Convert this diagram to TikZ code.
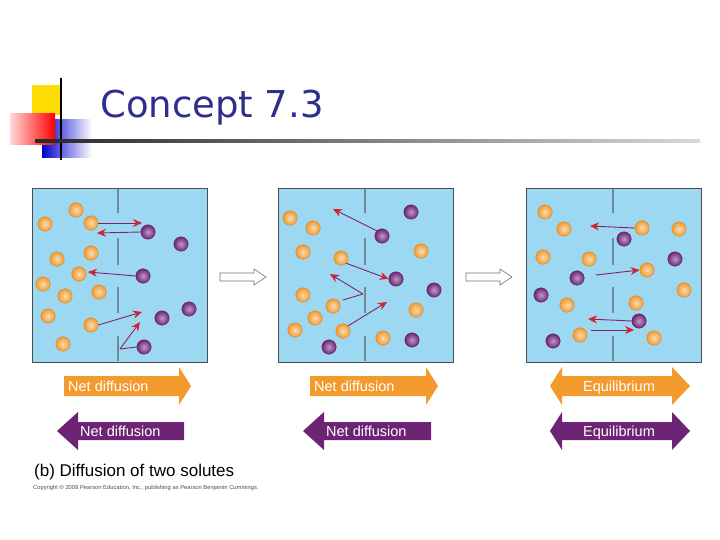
\documentclass[tikz,border=0pt]{standalone}
\usepackage{fontspec}
\setmainfont{Liberation Sans}
\newfontfamily\titlefont{DejaVu Sans}
\usetikzlibrary{arrows.meta}
\definecolor{water}{HTML}{9DD8F2}
\definecolor{orng}{HTML}{F29A2E}
\definecolor{purp}{HTML}{6E2475}
\definecolor{navy}{HTML}{2E2E8C}
\definecolor{memb}{HTML}{6F8A99}
\definecolor{arr}{HTML}{D6202E}
\tikzset{
 tank/.style={fill=water,draw=black!70,line width=0.8pt},
 mem/.style={draw=memb,line width=2.4pt},
 ob/.style={circle,inner sep=0pt,minimum size=14.5pt,shading=radial,inner color=orng!35!white,outer color=orng,draw=orng!85!black,line width=0.3pt},
 pb/.style={circle,inner sep=0pt,minimum size=14.5pt,shading=radial,inner color=purp!45!white,outer color=purp,draw=purp!80!black,line width=0.3pt},
 mv/.style={draw=purp!80!arr,line width=0.9pt,-{Stealth[length=9pt,width=8pt,color=arr,fill=arr]}},
 mvb/.style={draw=purp!80!arr,line width=0.9pt},
 lbl/.style={text=white,inner sep=0pt,font=\fontsize{14.5}{16}\selectfont},
 hollow/.style={draw=black!55,fill=white,line width=0.6pt}
}
\begin{document}
\begin{tikzpicture}[x=1pt,y=-1pt]
\useasboundingbox (0,0) rectangle (720,540);
% logo
\fill[yellow!80!orange] (32,85) rectangle (62,115);
\shade[left color=blue!80!black,right color=white] (42,120) rectangle (92,158);
\shade[left color=red!15,right color=red] (10,114) rectangle (55,145);
\draw[black,line width=1.5pt] (61,78) -- (61,160);
\shade[left color=black!85,right color=black!15] (35,140) rectangle (700,142.5);
\node[anchor=base west,text=navy,inner sep=0pt,font=\titlefont\fontsize{37}{40}\selectfont] (title) at (100,118) {Concept 7.3};
% panels
\foreach \x/\m in {32/118,278/365,526/613}{
 \draw[tank] (\x,188) rectangle (\x+175,362);
 \draw[mem] (\m,189)--(\m,213) (\m,238)--(\m,265) (\m,287)--(\m,313) (\m,336)--(\m,361);
}
% panel 1 balls
\foreach \p [count=\i] in {(76,210),(45,224),(91,223),(57,259),(91,253),(79,274),(43,284),(65,296),(99,292),(48,316),(91,325),(63,344)} \node[ob] (a\i) at \p {};
\foreach \p [count=\i] in {(148,232),(181,244),(143,276),(189,309),(162,318),(144,347)} \node[pb] (b\i) at \p {};
\coordinate (e1) at (142,223); \coordinate (e2) at (97,233); \coordinate (e3) at (88,272);
\coordinate (e4) at (142,312); \coordinate (k1) at (120,349); \coordinate (e5) at (140,322);
\draw[mv] (a3.east) -- (e1);
\draw[mv] (b1.west) -- (e2);
\draw[mv] (b3.west) -- (e3);
\draw[mv] (a11.east) -- (e4);
\draw[mvb] (b6.west) -- (k1); \draw[mv] (k1) -- (e5);
% panel 2 balls
\foreach \p [count=\i] in {(290,218),(313,228),(303,252),(341,258),(303,295),(333,306),(315,318),(295,330),(343,331),(421,251),(416,310),(383,338)} \node[ob] (c\i) at \p {};
\foreach \p [count=\i] in {(411,212),(382,236),(396,279),(434,290),(329,347),(412,340)} \node[pb] (d\i) at \p {};
\coordinate (f1) at (333,209); \coordinate (k2) at (363,294); \coordinate (f3) at (330,274); \coordinate (f4) at (387,302);
\coordinate (s3) at (343,300);
\draw[mv] (d2.north west) -- (f1);
\draw[mv] (c4.south east) -- (d3.west);
\draw[mvb] (s3) -- (k2); \draw[mv] (k2) -- (f3);
\draw[mv] (c9.north east) -- (f4);
% panel 3 balls
\foreach \p [count=\i] in {(545,212),(564,229),(679,229),(642,228),(543,257),(589,259),(647,270),(684,290),(567,305),(636,303),(580,335),(654,338)} \node[ob] (g\i) at \p {};
\foreach \p [count=\i] in {(624,239),(675,259),(577,278),(541,295),(639,321),(553,341)} \node[pb] (h\i) at \p {};
\coordinate (t1) at (590,226); \coordinate (s2) at (596,275); \coordinate (t3) at (588,319); \coordinate (s4) at (591,330); \coordinate (t4) at (634,330);
\draw[mv] (g4.west) -- (t1);
\draw[mv] (s2) -- (g7.west);
\draw[mv] (h5.west) -- (t3);
\draw[mv] (s4) -- (t4);
% hollow arrows between panels
\foreach \x in {220,466}{
 \draw[hollow] (\x,273)--(\x+34,273)--(\x+34,269)--(\x+46,277)--(\x+34,285)--(\x+34,281)--(\x,281)--cycle;
}
% big arrows
\foreach \x/\t in {64/191,310/438}{
 \fill[orng] (\x,376)--(\t-12,376)--(\t-12,367)--(\t,386)--(\t-12,405)--(\t-12,396)--(\x,396)--cycle;
 \fill[purp] (\t-7,422)--(\x+14,422)--(\x+14,412)--(\x-7,431)--(\x+14,450)--(\x+14,440)--(\t-7,440)--cycle;
}
\node[lbl,anchor=base west] (l1) at (68,391) {Net diffusion};
\node[lbl,anchor=base west] (l2) at (314,391) {Net diffusion};
\node[lbl,anchor=base west] (l3) at (80,436) {Net diffusion};
\node[lbl,anchor=base west] (l4) at (326,436) {Net diffusion};
\fill[orng] (562,376)--(672,376)--(672,367)--(690,386)--(672,405)--(672,396)--(562,396)--(562,405)--(550,386)--(562,367)--cycle;
\fill[purp] (562,422)--(672,422)--(672,412)--(690,431)--(672,450)--(672,440)--(562,440)--(562,450)--(550,431)--(562,412)--cycle;
\node[lbl,anchor=base] (l5) at (619,391) {Equilibrium};
\node[lbl,anchor=base] (l6) at (619,436) {Equilibrium};
\node[anchor=west,inner sep=0pt,font=\fontsize{17}{19}\selectfont] (cap) at (34,472) {(b) Diffusion of two solutes};
\node[anchor=west,inner sep=0pt,text=black!70,font=\fontsize{5.8}{7}\selectfont] (copy) at (33,488) {Copyright © 2008 Pearson Education, Inc., publishing as Pearson Benjamin Cummings.};
\end{tikzpicture}
\end{document}
